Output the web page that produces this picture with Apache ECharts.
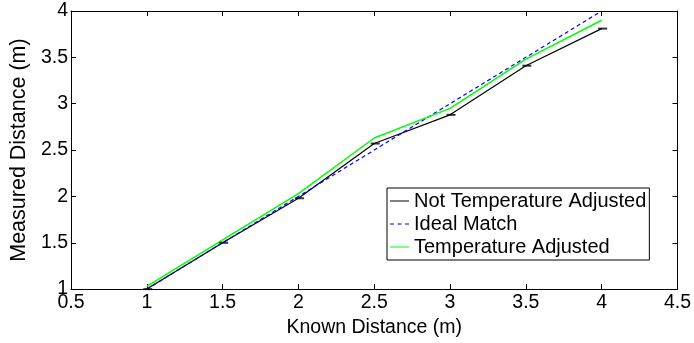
<!DOCTYPE html>
<html>
<head>
<meta charset="utf-8">
<script src="https://cdn.jsdelivr.net/npm/echarts@6/dist/echarts.min.js"></script>
<style>
  html, body { margin: 0; padding: 0; background: #fff; }
  #main { width: 694px; height: 343px; }
</style>
</head>
<body>
<div id="main"></div>
<script>
// known distances (m)
var knownDist = [1, 1.5, 2, 2.5, 3, 3.5, 4];
// measured without temperature adjustment
var notAdjusted = [1.00, 1.50, 1.98, 2.57, 2.88, 3.41, 3.81];
// ideal: measured == known
var idealMatch = [1, 1.5, 2, 2.5, 3, 3.5, 4];
// measured with temperature adjustment
var tempAdjusted = [1.03, 1.53, 2.03, 2.63, 2.95, 3.48, 3.90];

var xTicks = [0.5, 1, 1.5, 2, 2.5, 3, 3.5, 4, 4.5];
var yTicks = [1, 1.5, 2, 2.5, 3, 3.5, 4];

function pairs(xs, ys) {
    var out = [];
    for (var i = 0; i < xs.length; i++) {
        out.push([xs[i], ys[i]]);
    }
    return out;
}

var FONT = 'Liberation Sans';
// legend icons: solid line and matlab style dashed line
var solidIcon = 'path://M0,0h19v1h-19z';
var dashIcon = 'path://M0,0h4v1h-4z M7.5,0h4v1h-4z M15,0h4v1h-4z';

var myChart = echarts.init(document.getElementById('main'));

var axisBase = {
    type: 'value',
    axisLine: { show: true, onZero: false, lineStyle: { color: '#000', width: 1 } },
    axisTick: { show: true, inside: true, length: 5, lineStyle: { color: '#000' } },
    splitLine: { show: false }
};

myChart.setOption({
    animation: false,
    textStyle: { fontFamily: FONT },
    grid: { left: 64, right: 15, top: 11, bottom: 47, containLabel: false },
    legend: {
        orient: 'vertical',
        left: 387,
        top: 188,
        backgroundColor: '#fff',
        borderColor: '#000',
        borderWidth: 1,
        borderRadius: 0,
        padding: [3, 3, 3, 3],
        itemWidth: 19,
        itemHeight: 1.3,
        itemGap: 3,
        textStyle: { fontFamily: FONT, fontSize: 20, color: '#000', lineHeight: 20 },
        data: [
            { name: 'Not Temperature Adjusted', icon: solidIcon, itemStyle: { color: '#000' } },
            { name: 'Ideal Match', icon: dashIcon, itemStyle: { color: '#0000ff' } },
            { name: 'Temperature Adjusted', icon: solidIcon, itemStyle: { color: '#00ff00' } }
        ]
    },
    xAxis: [
        Object.assign({}, axisBase, {
            position: 'bottom',
            min: xTicks[0],
            max: xTicks[xTicks.length - 1],
            interval: 0.5,
            axisLabel: { color: '#000', fontSize: 19.5, margin: 4, fontFamily: FONT },
            name: 'Known Distance (m)',
            nameLocation: 'middle',
            nameGap: 20,
            nameTextStyle: { color: '#000', fontSize: 19.5, fontFamily: FONT }
        }),
        Object.assign({}, axisBase, {
            position: 'top',
            min: xTicks[0],
            max: xTicks[xTicks.length - 1],
            interval: 0.5,
            axisLabel: { show: false }
        })
    ],
    yAxis: [
        Object.assign({}, axisBase, {
            position: 'left',
            min: yTicks[0],
            max: yTicks[yTicks.length - 1],
            interval: 0.5,
            axisLabel: { color: '#000', fontSize: 19.5, margin: 3, fontFamily: FONT },
            name: 'Measured Distance (m)',
            nameLocation: 'middle',
            nameGap: 38,
            nameRotate: 90,
            nameTextStyle: { color: '#000', fontSize: 21.5, fontFamily: FONT }
        }),
        Object.assign({}, axisBase, {
            position: 'right',
            min: yTicks[0],
            max: yTicks[yTicks.length - 1],
            interval: 0.5,
            axisLabel: { show: false }
        })
    ],
    series: [
        {
            name: 'Not Temperature Adjusted',
            type: 'line',
            symbol: 'none',
            lineStyle: { color: '#000', width: 1.2 },
            itemStyle: { color: '#000' },
            data: pairs(knownDist, notAdjusted)
        },
        {
            name: 'Ideal Match',
            type: 'line',
            symbol: 'none',
            lineStyle: { color: '#0000ff', width: 1.2, type: [4, 3] },
            itemStyle: { color: '#0000ff' },
            data: pairs(knownDist, idealMatch)
        },
        {
            name: 'Temperature Adjusted',
            type: 'line',
            symbol: 'none',
            lineStyle: { color: '#00ff00', width: 1.5 },
            itemStyle: { color: '#00ff00' },
            data: pairs(knownDist, tempAdjusted)
        },
        {
            // error bar caps on the unadjusted measurements
            name: 'caps',
            type: 'scatter',
            symbol: 'rect',
            symbolSize: [9, 2],
            symbolOffset: [1, 0],
            silent: true,
            z: 5,
            itemStyle: { color: '#000' },
            data: pairs(knownDist, notAdjusted)
        }
    ]
});
</script>
</body>
</html>
